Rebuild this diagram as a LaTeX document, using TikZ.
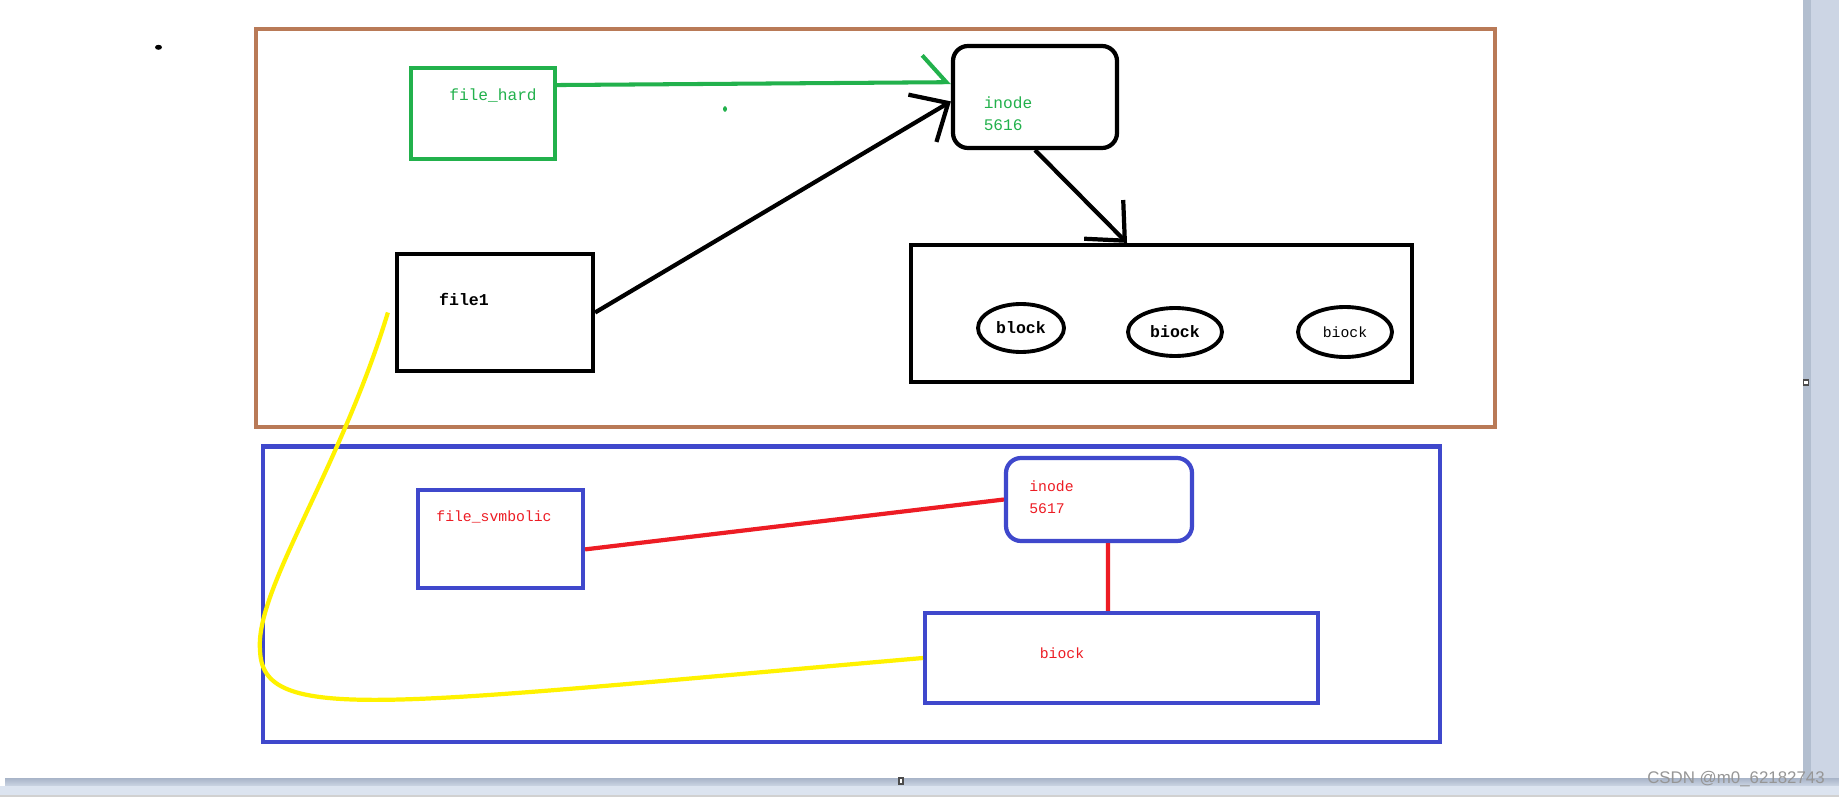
\documentclass[tikz,border=0pt]{standalone}
\usepackage{fontspec}
\setmainfont{Liberation Serif}
\setsansfont{Liberation Sans}
\setmonofont{Liberation Mono}
\usetikzlibrary{shapes.geometric}
\usetikzlibrary{arrows.meta}

\definecolor{paintbrown}{RGB}{185,122,87}
\definecolor{paintgreen}{RGB}{34,177,76}
\definecolor{paintblue}{RGB}{63,72,204}
\definecolor{paintred}{RGB}{237,28,36}
\definecolor{paintyellow}{RGB}{255,242,0}
\definecolor{chromestrip}{RGB}{178,190,207}
\definecolor{chrometop}{RGB}{204,213,228}
\definecolor{chromebottom}{RGB}{220,228,240}
\definecolor{chromebar}{RGB}{168,180,200}
\definecolor{markgray}{RGB}{150,150,150}

\tikzset{
    box/.style={draw, line width=1.2pt, inner sep=0pt},
    txt/.style={font=\fontsize{4.6pt}{6.3pt}\selectfont\ttfamily},
    boldtxt/.style={font=\fontsize{4.7pt}{6.3pt}\selectfont\ttfamily\bfseries},
    smalltxt/.style={font=\fontsize{4.2pt}{6.3pt}\selectfont\ttfamily},
    blob/.style={draw, ellipse, line width=1.1pt, inner sep=0pt, minimum height=0.48cm},
    barb/.style={line width=1.2pt, -{Straight Barb[length=3mm,width=5.5mm]}},
}

\begin{document}
\begin{tikzpicture}
    \useasboundingbox (0,0) rectangle (18.39,-7.97);
    \fill[white] (0,0) rectangle (18.39,-7.97);

    \fill[chrometop] (18.03,0) rectangle (18.39,-7.78);
    \fill[chromestrip] (18.03,0) rectangle (18.11,-7.78);
    \shade[top color=chromebar, bottom color=chrometop] (0.05,-7.78) rectangle (18.39,-7.86);
    \fill[chromebottom] (0,-7.86) rectangle (18.39,-7.95);
    \fill[black!18] (0,-7.95) rectangle (18.39,-7.97);
    \draw[black!70, fill=white, line width=0.3pt] (18.035,-3.80) rectangle (18.085,-3.85);
    \draw[black!70, fill=white, line width=0.3pt] (8.99,-7.78) rectangle (9.03,-7.84);
    \node[font=\fontsize{4.8pt}{6pt}\selectfont\sffamily, text=markgray] (mark) at (17.36,-7.79) {CSDN @m0\_62182743};

    \draw[paintbrown, line width=1.4pt] (2.56,-0.29) rectangle (14.95,-4.27);
    \draw[paintblue, line width=1.3pt] (2.63,-4.465) rectangle (14.40,-7.42);

    \fill (1.585,-0.473) ellipse (0.035 and 0.025);
    \fill[paintgreen] (7.25,-1.09) ellipse (0.02 and 0.028);

    \node[box, paintgreen, minimum width=1.44cm, minimum height=0.91cm,
        label={[txt, paintgreen, xshift=0.10cm, yshift=0.175cm]center:file\_hard}] (hard) at (4.83,-1.135) {};
    \node[box, minimum width=1.96cm, minimum height=1.17cm,
        label={[boldtxt, xshift=-0.31cm, yshift=0.135cm]center:file1}] (file1) at (4.95,-3.125) {};
    \node[box, rounded corners=0.15cm, minimum width=1.64cm, minimum height=1.02cm,
        label={[txt, paintgreen, align=left, xshift=-0.27cm, yshift=-0.17cm]center:inode\\5616}] (inode1) at (10.35,-0.97) {};
    \node[box, minimum width=5.01cm, minimum height=1.37cm] (blocks) at (11.615,-3.135) {};
    \node[blob, boldtxt, minimum width=0.86cm] (blk1) at (10.21,-3.28) {block};
    \node[blob, boldtxt, minimum width=0.94cm] (blk2) at (11.75,-3.32) {biock};
    \node[blob, smalltxt, minimum width=0.94cm, minimum height=0.50cm] (blk3) at (13.45,-3.32) {biock};

    \node[box, paintblue, minimum width=1.65cm, minimum height=0.98cm,
        label={[smalltxt, paintred, xshift=-0.065cm, yshift=0.22cm]center:file\_svmbolic}] (sym) at (5.005,-5.39) {};
    \node[box, paintblue, rounded corners=0.15cm, minimum width=1.86cm, minimum height=0.83cm,
        label={[smalltxt, paintred, align=left, xshift=-0.475cm, yshift=0.025cm]center:inode\\5617}] (inode2) at (10.99,-4.995) {};
    \node[box, paintblue, minimum width=3.93cm, minimum height=0.90cm,
        label={[smalltxt, paintred, xshift=-0.595cm, yshift=0.05cm]center:biock}] (symblk) at (11.215,-6.58) {};

    \draw[paintgreen, line width=1.15pt, -{Straight Barb[harpoon,length=2.4mm,width=5.4mm]}] (hard.21.6) -- (inode1.170);
    \draw[barb] (file1.east) -- (inode1.183);
    \draw[barb] (inode1.south) -- ([xshift=-0.345cm]blocks.north);

    \draw[paintred, line width=1.2pt] (sym.-7) -- (inode2.west);
    \draw[paintred, line width=1.2pt] ([xshift=0.09cm]inode2.south) -- ([xshift=-0.135cm]symblk.north);

    \draw[paintyellow, line width=1.2pt] ([xshift=-0.07cm]file1.west) .. controls (3.40,-4.70) and (2.55,-5.90) .. (2.60,-6.50)
        .. controls (2.62,-7.25) and (3.80,-7.05) .. (symblk.west);
\end{tikzpicture}
\end{document}
